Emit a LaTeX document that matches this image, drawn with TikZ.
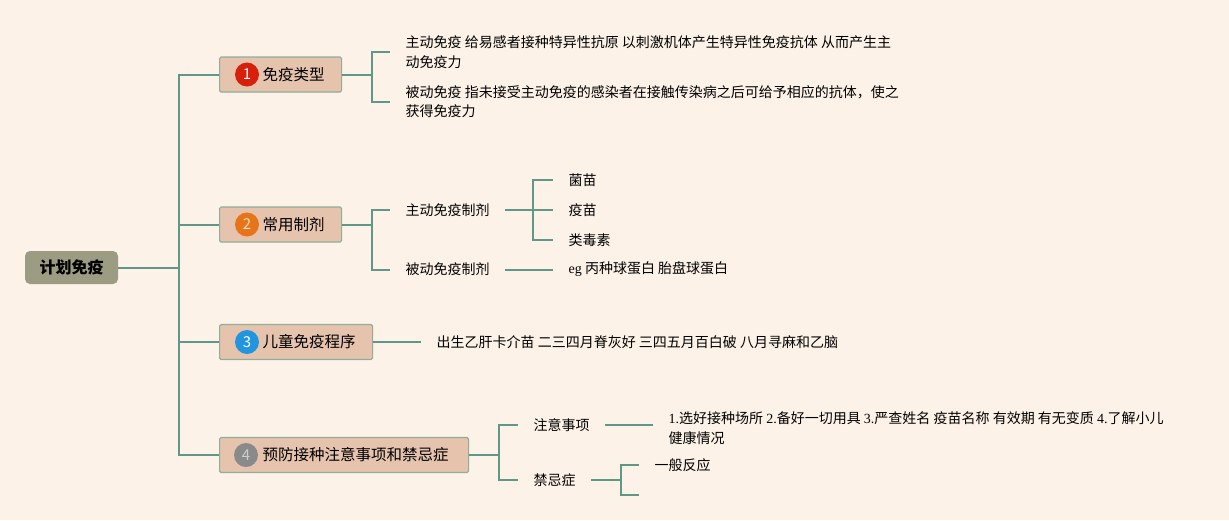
\documentclass[tikz,border=0pt]{standalone}
\usepackage{fontspec}
\setmainfont{Noto Sans CJK SC}
\newfontfamily\latserif{Liberation Serif}
\usetikzlibrary{positioning,calc}
\definecolor{paper}{HTML}{FDF2E8}
\definecolor{branchline}{HTML}{5F9888}
\definecolor{topicfill}{HTML}{E5C3AD}
\definecolor{topicdraw}{HTML}{8FAE9A}
\definecolor{rootfill}{HTML}{9C9C82}
\definecolor{badgeone}{HTML}{D6200C}
\definecolor{badgetwo}{HTML}{E8741A}
\definecolor{badgethree}{HTML}{2196DE}
\definecolor{badgefour}{HTML}{8A8A8A}
\tikzset{
  link/.style={draw=branchline, line width=2pt},
  rootbox/.style={fill=rootfill, rounded corners=5pt, minimum width=93pt,
    minimum height=33pt, inner sep=0pt, font=\fontsize{16}{18}\selectfont\bfseries},
  topic/.style={anchor=west, fill=topicfill, draw=topicdraw, line width=1.2pt,
    rounded corners=1.5pt, minimum height=35pt, inner xsep=0pt, inner ysep=0pt,
    font=\fontsize{15.5}{18}\selectfont},
  badge/.style={circle, inner sep=0pt, minimum size=24pt, text=white,
    font=\fontsize{15}{15}\selectfont},
  leaf/.style={anchor=west, inner xsep=15.5pt, inner ysep=2pt, align=left,
    font=\fontsize{14}{19.5}\selectfont}
}
\begin{document}
\begin{tikzpicture}[x=1pt,y=-1pt]
  \fill[paper] (0,0) rectangle (1229,520);
  \useasboundingbox (0,0) rectangle (1229,520);
  \node[rootbox] (root) at (71.5,267.5) {计划免疫};
  \node[topic] (t1) at (219,74.5) {\hspace*{43pt}免疫类型\hspace*{17pt}};
  \node[topic] (t2) at (219,224.5) {\hspace*{43pt}常用制剂\hspace*{17pt}};
  \node[topic] (t3) at (219,342) {\hspace*{43pt}儿童免疫程序\hspace*{17pt}};
  \node[topic] (t4) at (219,455) {\hspace*{43pt}预防接种注意事项和禁忌症\hspace*{20pt}};
  \node[badge, fill=badgeone] (b1) at ([xshift=28pt]t1.west) {1};
  \node[badge, fill=badgetwo, text=orange!25] (b2) at ([xshift=28pt]t2.west) {2};
  \node[badge, fill=badgethree] (b3) at ([xshift=28pt]t3.west) {3};
  \node[badge, fill=badgefour, text=white!80!black] (b4) at ([xshift=27pt]t4.west) {4};
  \coordinate (spine) at ([xshift=-40pt]t1.west);
  \draw[link] (root.east) -- (root.east -| spine);
  \draw[link] (t1.west) -- (spine) |- (t4.west);
  \draw[link] (t2.west) -- (t2.west -| spine);
  \draw[link] (t3.west) -- (t3.west -| spine);
  % immune types
  \node[leaf] (c11) at (390,52) {主动免疫 给易感者接种特异性抗原 以刺激机体产生特异性免疫抗体 从而产生主\\动免疫力};
  \node[leaf] (c12) at (390,101.5) {被动免疫 指未接受主动免疫的感染者在接触传染病之后可给予相应的抗体，使之\\获得免疫力};
  \coordinate (k1) at ([xshift=30pt]t1.east);
  \draw[link] (t1.east) -- (k1);
  \draw[link] (c11.west) -| (k1) |- (c12.west);
  % preparations
  \node[leaf] (c21) at (390,210) {主动免疫制剂};
  \node[leaf] (c22) at (390,269.5) {被动免疫制剂};
  \coordinate (k2) at ([xshift=30pt]t2.east);
  \draw[link] (t2.east) -- (k2);
  \draw[link] (c21.west) -| (k2) |- (c22.west);
  \node[leaf] (d1) at (553,180) {菌苗};
  \node[leaf] (d2) at (553,210) {疫苗};
  \node[leaf] (d3) at (553,240) {类毒素};
  \node[leaf] (d4) at (553,269.5) {{\latserif eg} 丙种球蛋白 胎盘球蛋白};
  \coordinate (k3) at (533,210);
  \draw[link] (c21.east) -- (d2.west);
  \draw[link] (d1.west) -| (k3) |- (d3.west);
  \draw[link] (c22.east) -- (d4.west);
  % schedule
  \node[leaf] (c31) at (421,342) {出生乙肝卡介苗 二三四月脊灰好 三四五月百白破 八月寻麻和乙脑};
  \draw[link] (t3.east) -- (c31.west);
  % precautions
  \node[leaf] (c41) at (518,425) {注意事项};
  \node[leaf] (c42) at (518,480) {禁忌症};
  \coordinate (k4) at ([xshift=30pt]t4.east);
  \draw[link] (t4.east) -- (k4);
  \draw[link] (c41.west) -| (k4) |- (c42.west);
  \node[leaf] (e1) at (653,428) {{\latserif 1.}选好接种场所 {\latserif 2.}备好一切用具 {\latserif 3.}严查姓名 疫苗名称 有效期 有无变质 {\latserif 4.}了解小儿\\健康情况};
  \draw[link] (c41.east) -- (c41.east -| e1.west);
  \node[leaf] (e2) at (639,465) {一般反应};
  \coordinate (e3) at (639,494.5);
  \coordinate (k5) at (621,480);
  \draw[link] (c42.east) -- (k5);
  \draw[link] (e2.west) -| (k5) |- (e3);
\end{tikzpicture}
\end{document}
